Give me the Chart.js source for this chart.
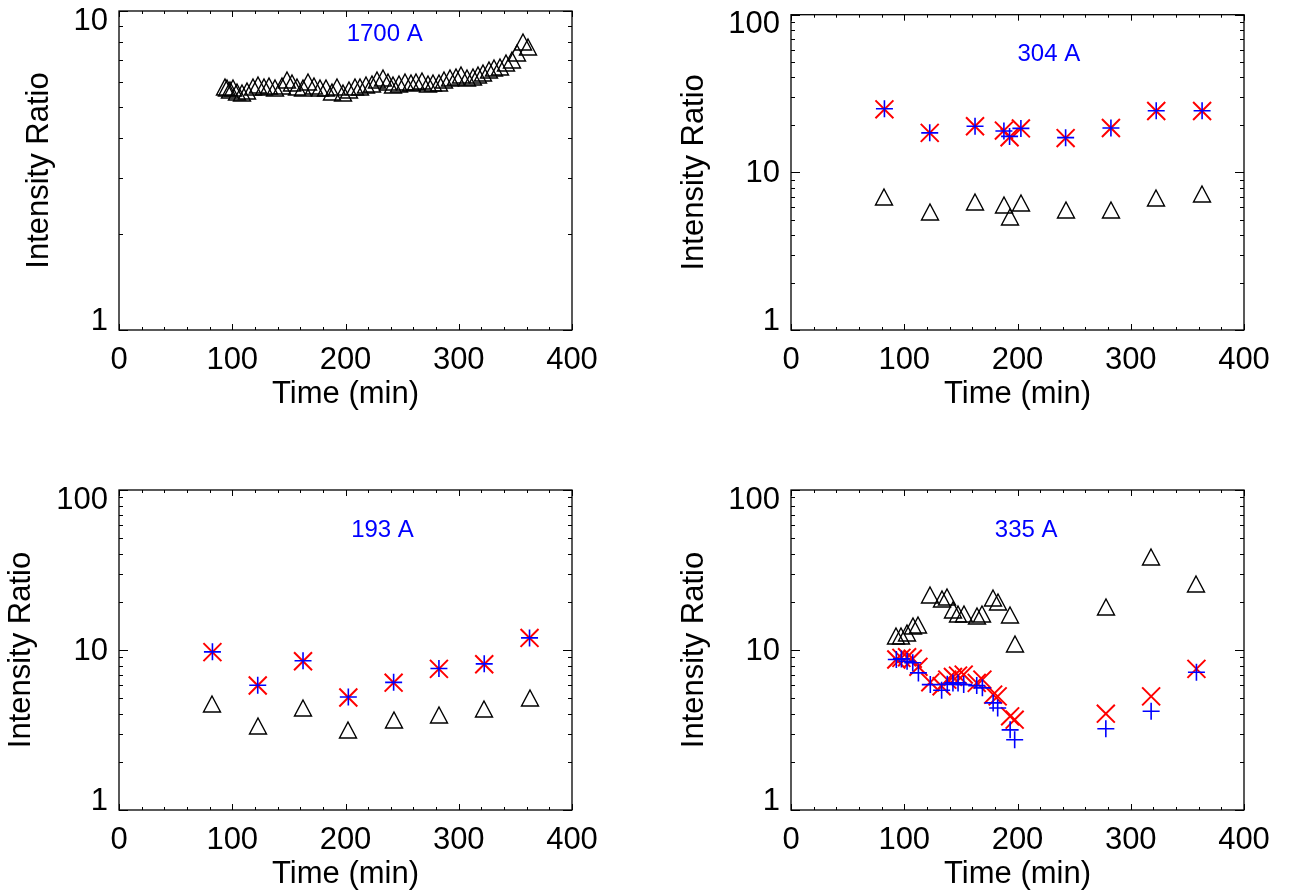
<!DOCTYPE html>
<html>
<head>
<meta charset="utf-8">
<title>Intensity ratio vs time</title>
<script src="https://cdn.jsdelivr.net/npm/chart.js@4.4.1/dist/chart.umd.min.js"></script>
<style>
  html, body { margin: 0; padding: 0; background: #fff; }
  #wrap { position: relative; width: 1296px; height: 895px; overflow: hidden; background: #fff; }
  #wrap canvas { position: absolute; }
</style>
</head>
<body>
<div id="wrap">
  <canvas id="p1700" width="648" height="447" style="left:0;top:0"></canvas>
  <canvas id="p304"  width="648" height="447" style="left:648px;top:0"></canvas>
  <canvas id="p193"  width="648" height="448" style="left:0;top:447px"></canvas>
  <canvas id="p335"  width="648" height="448" style="left:648px;top:447px"></canvas>
</div>
<script>
// ─── Data (time in minutes, intensity ratios) ─────────────────────
const t1700 = [93.6, 95.6, 98, 100.9, 103.9, 108.3, 112.7, 118, 123, 128, 132.4, 137.7, 143.6, 148,
  152.5, 157.5, 162.8, 167.2, 172.2, 177.5, 182.5, 187.8, 192.8, 198.1, 203.4, 208.4, 212.8, 218.1,
  223.1, 227.5, 232.9, 237.3, 242.3, 247.6, 252.6, 257.6, 262.3, 267.9, 272.6, 277.6, 282.6, 287,
  292.3, 297.3, 302, 307, 312.3, 317.3, 321.7, 326.7, 331.4, 336.4, 341.7, 346.7, 351.1, 357, 361.4];
const tri1700 = [5.77, 5.72, 5.65, 5.72, 5.59, 5.52, 5.62, 5.77, 5.86, 5.79, 5.84, 5.72, 5.84, 6.08,
  5.93, 5.79, 5.72, 5.98, 5.84, 5.72, 5.72, 5.59, 5.79, 5.52, 5.65, 5.79, 5.79, 5.86,
  5.89, 6.08, 6.15, 6.01, 5.86, 5.89, 6.01, 5.93, 5.98, 6.03, 5.89, 5.93, 5.93, 6.08,
  6.15, 6.23, 6.30, 6.15, 6.23, 6.30, 6.38, 6.53, 6.61, 6.69, 6.86, 7.03, 7.37, 8.02, 7.73];

const t304     = [82.5, 122.5, 162.5, 188, 193, 203, 242.5, 282.5, 322.5, 363];
const tri304   = [6.99, 5.57, 6.44, 6.17, 5.24, 6.35, 5.74, 5.80, 6.85, 7.33];
const plus304  = [25.3, 17.8, 19.6, 18.3, 16.9, 19.0, 16.6, 19.1, 24.6, 24.6];
const cross304 = [25.1, 17.8, 19.6, 18.4, 16.7, 19.0, 16.5, 19.1, 24.5, 24.5];

const t193     = [82.5, 122.5, 162.5, 202.5, 242.5, 282.5, 322.5, 362.5];
const tri193   = [4.57, 3.36, 4.36, 3.16, 3.65, 3.90, 4.25, 5.01];
const plus193  = [9.74, 6.02, 8.56, 5.09, 6.28, 7.66, 8.19, 11.9];
const cross193 = [9.70, 6.00, 8.50, 5.05, 6.25, 7.62, 8.15, 11.9];

const t335     = [93, 97.5, 102.5, 107.5, 112.5, 123, 133, 138, 143, 147.5, 152.5, 164, 169,
  178.5, 182.5, 193.5, 197.5, 278, 318, 358];
const tri335   = [12.3, 12.2, 12.8, 14.2, 14.3, 22.0, 20.7, 21.4, 17.9, 16.9, 16.9, 16.3, 16.9,
  21.0, 19.9, 16.5, 10.9, 18.5, 38.2, 25.7];
const plus335  = [8.72, 8.8, 8.51, 8.32, 7.19, 6.08, 5.60, 6.1, 6.23, 6.23, 6.08, 5.99, 5.80,
  4.67, 4.34, 3.17, 2.75, 3.22, 4.14, 7.26];
const cross335 = [8.72, 8.93, 9.01, 8.81, 7.85, 6.28, 5.93, 6.53, 6.79, 6.92, 7.02, 6.23, 6.53,
  5.26, 5.13, 3.85, 3.67, 4.0, 5.13, 7.62];

const xTicks = [0, 100, 200, 300, 400];

// ─── Shared styling ───────────────────────────────────────────────
const FONT   = 'Liberation Sans, Arial, Helvetica, sans-serif';
const BIG    = { family: FONT, size: 31, lineHeight: 1.2 };
const BLUE   = '#0000ff';
const RED    = '#ff0000';

// open triangle, centred on its own box like the IDL psym 5 glyph
function triMark() {
  const c = document.createElement('canvas');
  c.width = 22; c.height = 22;
  const g = c.getContext('2d');
  g.strokeStyle = '#000'; g.lineWidth = 1.4; g.lineJoin = 'miter';
  g.beginPath(); g.moveTo(11, 3); g.lineTo(19.5, 19); g.lineTo(2.5, 19); g.closePath(); g.stroke();
  return c;
}
const TRI = triMark();

const pts = (ts, vs) => ts.map((t, i) => ({ x: t, y: vs[i] }));

const triSet   = (ts, vs) => ({ data: pts(ts, vs), pointStyle: TRI, pointRadius: 10 });
const plusSet  = (ts, vs) => ({ data: pts(ts, vs), pointStyle: 'cross', pointRadius: 8.5,
  borderColor: BLUE, borderWidth: 1.6, backgroundColor: 'transparent' });
const crossSet = (ts, vs) => ({ data: pts(ts, vs), pointStyle: 'crossRot', pointRadius: 12.7,
  borderColor: RED, borderWidth: 2, backgroundColor: 'transparent' });

function logTicks(max) {
  const out = [];
  for (let d = 1; d < max; d *= 10)
    for (let k = 1; k < 10; k++) out.push({ value: k * d });
  out.push({ value: max });
  return out;
}
const isDecade = v => Math.abs(Math.log10(v) - Math.round(Math.log10(v))) < 1e-9;

// keep the triangle bitmaps sharp when they land on half pixels
const crispMarks = {
  id: 'crispMarks',
  beforeDatasetsDraw(chart) { chart.ctx.imageSmoothingEnabled = false; },
  afterDatasetsDraw(chart)  { chart.ctx.imageSmoothingEnabled = true; }
};

// box, inward ticks on all four sides, decade labels kept inside the axis span
const frame = {
  id: 'frame',
  afterDatasetsDraw(chart) {
    const { ctx, chartArea: a, scales: { x, y } } = chart;
    ctx.save();
    ctx.strokeStyle = '#000';
    ctx.lineWidth = 1;
    ctx.beginPath();
    x.ticks.forEach(t => {
      const px = Math.round(x.getPixelForValue(t.value)) + 0.5;
      const len = xTicks.includes(t.value) ? 6 : 3;
      ctx.moveTo(px, a.bottom); ctx.lineTo(px, a.bottom - len);
      ctx.moveTo(px, a.top);    ctx.lineTo(px, a.top + len);
    });
    y.ticks.forEach(t => {
      const py = Math.round(y.getPixelForValue(t.value)) + 0.5;
      const len = isDecade(t.value) ? 9 : 4;
      ctx.moveTo(a.left, py);  ctx.lineTo(a.left + len, py);
      ctx.moveTo(a.right, py); ctx.lineTo(a.right - len, py);
    });
    ctx.stroke();
    ctx.lineWidth = 1.3;
    ctx.strokeRect(a.left, a.top, a.right - a.left, a.bottom - a.top);

    ctx.font = `${BIG.size}px ${FONT}`;
    ctx.fillStyle = '#000';
    ctx.textAlign = 'right';
    ctx.textBaseline = 'middle';
    y.ticks.filter(t => isDecade(t.value)).forEach(t => {
      let py = y.getPixelForValue(t.value) + 1.5;
      py = Math.min(Math.max(py, a.top + 10), a.bottom - 9);
      ctx.fillText(String(Math.round(t.value)), a.left - 11, py);
    });
    ctx.restore();
  }
};

// blue wavelength tag, placed in data coordinates
const bandLabel = {
  id: 'bandLabel',
  afterDraw(chart, _args, opts) {
    if (!opts.text) return;
    const { ctx, scales: { x, y } } = chart;
    ctx.save();
    ctx.font = '24px ' + FONT;
    ctx.fillStyle = BLUE;
    ctx.textAlign = 'left';
    ctx.textBaseline = 'middle';
    ctx.fillText(opts.text, x.getPixelForValue(opts.at[0]), y.getPixelForValue(opts.at[1]));
    ctx.restore();
  }
};

function makePanel(id, o) {
  const el = document.getElementById(id);
  const W = el.width, H = el.height;
  return new Chart(el, {
    type: 'scatter',
    data: { datasets: o.datasets },
    options: {
      responsive: false, animation: false, devicePixelRatio: 1,
      events: [],
      layout: { padding: { left: 0, top: o.top, right: W - o.right, bottom: 0 } },
      plugins: {
        legend: { display: false }, tooltip: { enabled: false },
        bandLabel: { text: o.label, at: o.labelAt }
      },
      scales: {
        x: {
          type: 'linear', min: 0, max: 400,
          grid: { display: false, drawTicks: false }, border: { display: false },
          ticks: { stepSize: 20, autoSkip: false, maxRotation: 0, padding: 11.4, color: '#000', font: BIG,
                   callback: v => xTicks.includes(v) ? String(v) : '' },
          title: { display: true, text: 'Time (min)', color: '#000', font: BIG,
                   padding: { top: 0, bottom: o.xTitlePad } },
          afterFit: s => { s.height = H - o.bottom; s.paddingLeft = 0; s.paddingRight = 0; }
        },
        y: {
          type: 'logarithmic', min: 1, max: o.yMax,
          grid: { display: false, drawTicks: false }, border: { display: false },
          ticks: { display: false, autoSkip: false },
          title: { display: true, text: 'Intensity Ratio', color: '#000', font: BIG,
                   padding: { top: o.yTitlePad, bottom: 0 } },
          afterBuildTicks: s => { s.ticks = logTicks(o.yMax); },
          afterFit: s => { s.width = o.left; s.paddingTop = 0; s.paddingBottom = 0; }
        }
      }
    },
    plugins: [crispMarks, frame, bandLabel]
  });
}

// ─── Panels ───────────────────────────────────────────────────────
makePanel('p1700', {
  left: 119, right: 572, top: 11, bottom: 330, yMax: 10, xTitlePad: 34.4, yTitlePad: 21,
  label: '1700 A', labelAt: [201, 8.47],
  datasets: [triSet(t1700, tri1700)]
});

makePanel('p304', {
  left: 143, right: 596, top: 11, bottom: 330, yMax: 100, xTitlePad: 34.4, yTitlePad: 27.4,
  label: '304 A', labelAt: [200, 56],
  datasets: [plusSet(t304, plus304), crossSet(t304, cross304), triSet(t304, tri304)]
});

makePanel('p193', {
  left: 119, right: 572, top: 43, bottom: 363, yMax: 100, xTitlePad: 2.4, yTitlePad: 3,
  label: '193 A', labelAt: [205, 56],
  datasets: [plusSet(t193, plus193), crossSet(t193, cross193), triSet(t193, tri193)]
});

makePanel('p335', {
  left: 143, right: 596, top: 43, bottom: 363, yMax: 100, xTitlePad: 2.4, yTitlePad: 27.4,
  label: '335 A', labelAt: [180, 56],
  datasets: [plusSet(t335, plus335), crossSet(t335, cross335), triSet(t335, tri335)]
});
</script>
</body>
</html>
